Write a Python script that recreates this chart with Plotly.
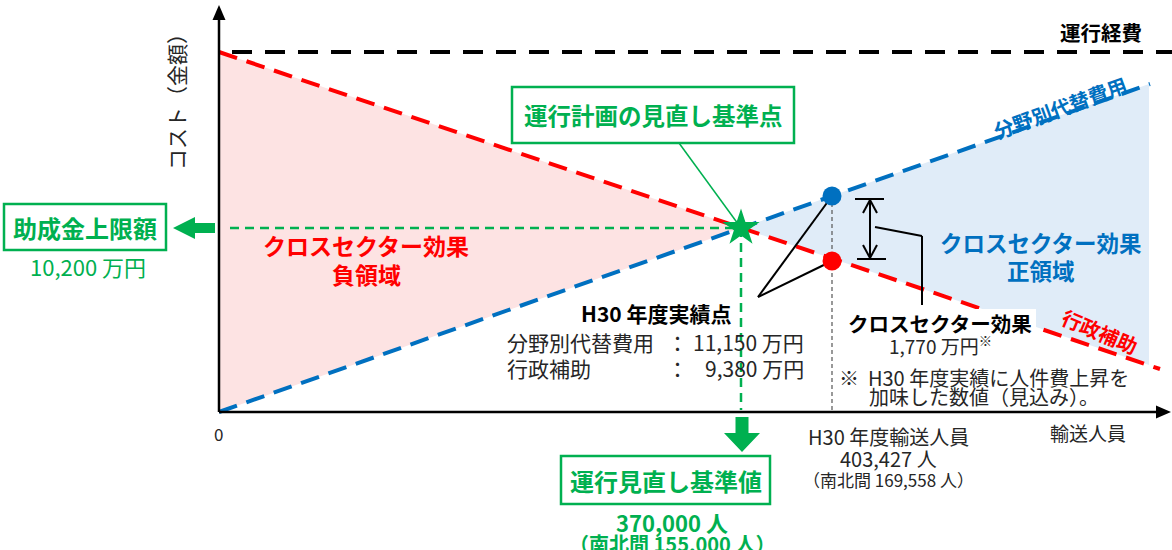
import plotly.graph_objects as go

# ---- data (conceptual units: x = passengers, y = cost) ----
cost_line_x = [13, 953]
cost_line_y = [360, 360]                 # 運行経費
subsidy_x = [0, 941]
subsidy_y = [360, 43]                    # 行政補助
alt_cost_x = [0, 931]
alt_cost_y = [0, 328]                    # 分野別代替費用
std_point_x = [522]
std_point_y = [184]                      # 運行計画の見直し基準点
h30_x = [613]
h30_alt = [216]                          # 分野別代替費用 (H30)
h30_sub = [151]                          # 行政補助 (H30)
pos_region_x = [522, 930, 930, 522]
pos_region_y = [184, 328, 47, 184]
neg_region_x = [0, 0, 522, 0]
neg_region_y = [360, 0, 184, 360]

GREEN = "#00b050"
RED = "#ff0000"
BLUE = "#0070c0"
FONT = "Noto Sans CJK JP"

def X(px):
    return px - 219

def Y(py):
    return 412 - py

fig = go.Figure()

# regions
fig.add_trace(go.Scatter(x=neg_region_x, y=neg_region_y, fill="toself", mode="none",
                         fillcolor="#fde3e3", hoverinfo="skip"))
fig.add_trace(go.Scatter(x=pos_region_x, y=pos_region_y, fill="toself", mode="none",
                         fillcolor="#e0ecf8", hoverinfo="skip"))

# guide lines (green dashed)
fig.add_trace(go.Scatter(x=[X(230), std_point_x[0]], y=[std_point_y[0], std_point_y[0]], mode="lines",
                         line=dict(color=GREEN, width=2.5, dash="9px,6px"), hoverinfo="skip"))
fig.add_trace(go.Scatter(x=[std_point_x[0], std_point_x[0]], y=[std_point_y[0], Y(410)], mode="lines",
                         line=dict(color=GREEN, width=2.5, dash="9px,6px"), hoverinfo="skip"))
# H30 vertical dotted
fig.add_trace(go.Scatter(x=[h30_x[0], h30_x[0]], y=[h30_alt[0], 0], mode="lines",
                         line=dict(color="#555555", width=1.2, dash="4px,3px"), hoverinfo="skip"))

# main dashed lines
fig.add_trace(go.Scatter(x=cost_line_x, y=cost_line_y, mode="lines",
                         line=dict(color="black", width=4, dash="20px,13px"), hoverinfo="skip"))
fig.add_trace(go.Scatter(x=subsidy_x, y=subsidy_y, mode="lines",
                         line=dict(color=RED, width=4, dash="19px,10px"), hoverinfo="skip"))
fig.add_trace(go.Scatter(x=alt_cost_x, y=alt_cost_y, mode="lines",
                         line=dict(color=BLUE, width=4, dash="19px,10px"), hoverinfo="skip"))

# leader lines (black) to H30 dots
for yy in (h30_alt[0], h30_sub[0]):
    fig.add_trace(go.Scatter(x=[X(758), h30_x[0]], y=[Y(297), yy], mode="lines",
                             line=dict(color="black", width=2), hoverinfo="skip"))
# leader from box to star
fig.add_trace(go.Scatter(x=[X(679), std_point_x[0]], y=[Y(143), std_point_y[0]], mode="lines",
                         line=dict(color=GREEN, width=1.5), hoverinfo="skip"))

# points
fig.add_trace(go.Scatter(x=h30_x, y=h30_alt, mode="markers",
                         marker=dict(color=BLUE, size=19, line=dict(width=0)), hoverinfo="skip"))
fig.add_trace(go.Scatter(x=h30_x, y=h30_sub, mode="markers",
                         marker=dict(color=RED, size=19, line=dict(width=0)), hoverinfo="skip"))
fig.add_trace(go.Scatter(x=std_point_x, y=std_point_y, mode="markers",
                         marker=dict(color=GREEN, size=28, symbol="star", line=dict(width=0)),
                         hoverinfo="skip"))

shapes = []
# axes
shapes.append(dict(type="line", x0=X(219), y0=Y(412), x1=X(219), y1=Y(16),
                   line=dict(color="black", width=2.5), layer="above"))
shapes.append(dict(type="line", x0=X(219), y0=Y(412), x1=X(1162), y1=Y(412),
                   line=dict(color="black", width=2.5), layer="above"))
shapes.append(dict(type="path",
                   path=f"M {X(219)},{Y(5)} L {X(212.5)},{Y(20)} L {X(225.5)},{Y(20)} Z",
                   fillcolor="black", line=dict(width=0), layer="above"))
shapes.append(dict(type="path",
                   path=f"M {X(1171)},{Y(412)} L {X(1156)},{Y(405.5)} L {X(1156)},{Y(418.5)} Z",
                   fillcolor="black", line=dict(width=0), layer="above"))
# green left arrow
shapes.append(dict(type="path",
                   path=(f"M {X(173)},{Y(228)} L {X(195)},{Y(217)} L {X(195)},{Y(223)} "
                         f"L {X(215)},{Y(223)} L {X(215)},{Y(233)} L {X(195)},{Y(233)} "
                         f"L {X(195)},{Y(239)} Z"),
                   fillcolor=GREEN, line=dict(width=0), layer="above"))
# green down arrow
shapes.append(dict(type="path",
                   path=(f"M {X(742)},{Y(452)} L {X(724)},{Y(433)} L {X(735.5)},{Y(433)} "
                         f"L {X(735.5)},{Y(417)} L {X(748.5)},{Y(417)} L {X(748.5)},{Y(433)} "
                         f"L {X(760)},{Y(433)} Z"),
                   fillcolor=GREEN, line=dict(width=0), layer="above"))
# green boxes
for (x0, y0, x1, y1) in [(4, 204, 166, 250), (512, 87, 794, 143), (561, 456, 770, 504)]:
    shapes.append(dict(type="rect", x0=X(x0), y0=Y(y0), x1=X(x1), y1=Y(y1),
                       line=dict(color=GREEN, width=2.5), fillcolor="white", layer="above"))
# double arrow bracket
blk = dict(color="black", width=2)
for (a, b, c, d) in [(855, 199, 884, 199), (857, 259, 886, 259), (870, 200, 870, 258),
                     (870, 200, 863, 213), (870, 200, 877, 213),
                     (870, 258, 863, 245), (870, 258, 877, 245),
                     (875, 227, 922, 236), (922, 236, 922, 305)]:
    shapes.append(dict(type="line", x0=X(a), y0=Y(b), x1=X(c), y1=Y(d), line=blk, layer="above"))
# white box behind black label
shapes.append(dict(type="rect", x0=X(844), y0=Y(309), x1=X(1036), y1=Y(337),
                   fillcolor="white", line=dict(width=0), layer="above"))

ann = []

def t(px, py, text, size, color="black", bold=False, xanchor="center", angle=0):
    ann.append(dict(x=X(px), y=Y(py), text=(f"<b>{text}</b>" if bold else text), showarrow=False,
                    xanchor=xanchor, yanchor="middle", textangle=angle,
                    font=dict(family=FONT, size=size, color=color)))

t(85, 227, "助成金上限額", 24, GREEN, True)
t(88, 266, "10,200 万円", 22, GREEN)
t(653, 115, "運行計画の見直し基準点", 23.5, GREEN, True)
t(666, 480, "運行見直し基準値", 24, GREEN, True)
t(672, 522, "370,000 人", 22, GREEN, True)
t(672, 543, "（南北間 155,000 人）", 20, GREEN, True)
t(1101, 32, "運行経費", 20.5, "black", True)
t(1060, 107, "分野別代替費用", 20, BLUE, True, angle=-20)
t(1100, 331, "行政補助", 20, RED, True, angle=23)
t(366, 245, "クロスセクター効果", 23, RED, True)
t(366, 274, "負領域", 23, RED, True)
t(1041, 242, "クロスセクター効果", 22.5, BLUE, True)
t(1041, 270, "正領域", 22.5, BLUE, True)
t(656, 313, "H30 年度実績点", 21, "black", True)
t(505, 342, "分野別代替費用", 21, "#262626", xanchor="left")
t(505, 368, "行政補助", 21, "#262626", xanchor="left")
t(677, 342, "：", 21, "#262626")
t(677, 368, "：", 21, "#262626")
t(806, 342, "11,150 万円", 21, "#262626", xanchor="right")
t(806, 368, "9,380 万円", 21, "#262626", xanchor="right")
t(940, 323, "クロスセクター効果", 20.5, "black", True)
t(940, 345, "1,770 万円<sup>※</sup>", 19, "#262626")
t(837, 377, "※  H30 年度実績に人件費上昇を", 20, "#262626", xanchor="left")
t(867, 396, "加味した数値（見込み）。", 20, "#262626", xanchor="left")
t(218, 433, "0", 17, "#262626")
t(1088, 432, "輸送人員", 19, "#262626")
t(888, 436, "H30 年度輸送人員", 20, "#262626")
t(888, 458, "403,427 人", 20, "#262626")
t(888, 479, "（南北間 169,558 人）", 17, "#262626")
t(176, 97, "コスト（金額）", 21, "#262626", angle=-90)

fig.update_layout(
    width=1172, height=550,
    margin=dict(l=0, r=0, t=0, b=0),
    paper_bgcolor="white", plot_bgcolor="white",
    showlegend=False,
    xaxis=dict(range=[X(0), X(1172)], visible=False, fixedrange=True),
    yaxis=dict(range=[Y(550), Y(0)], visible=False, fixedrange=True),
    shapes=shapes, annotations=ann,
    font=dict(family=FONT),
)

fig.write_html("out.html", config={"displayModeBar": False},
               post_script="document.body.style.margin='0';document.body.style.padding='0';"
                           "document.documentElement.style.overflow='hidden';")
